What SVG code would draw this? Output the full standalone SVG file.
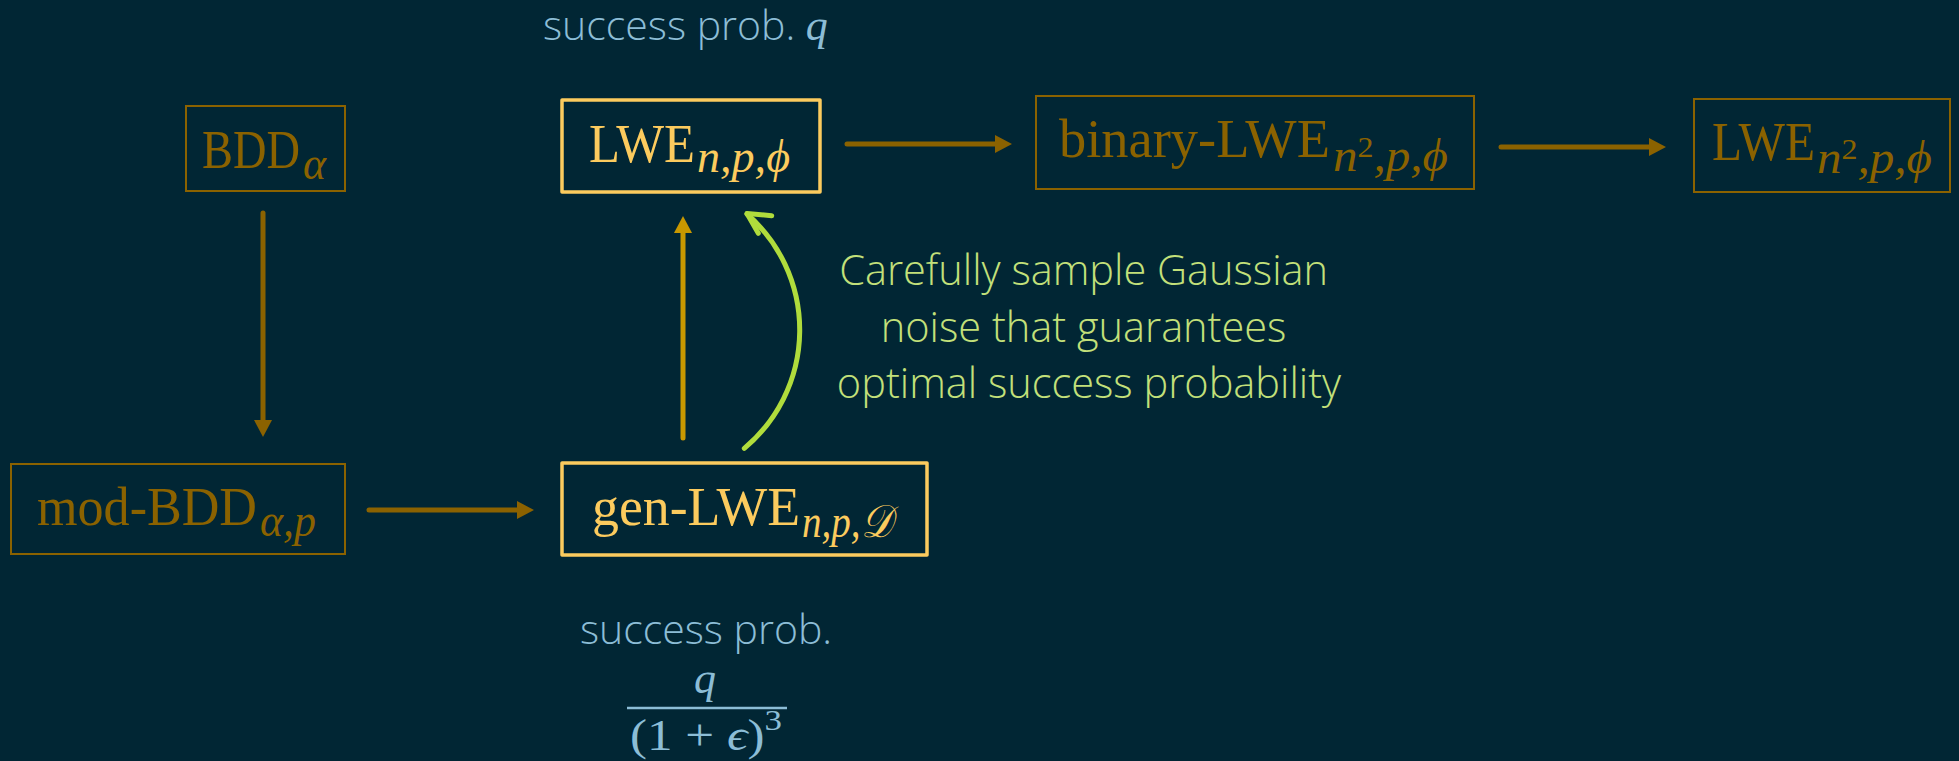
<svg xmlns="http://www.w3.org/2000/svg" width="1959" height="761" viewBox="0 0 1959 761">
  <style>
    .bg { fill: #012634; }
    .box-dim { fill: none; stroke: #8B6200; stroke-width: 2; }
    .box-hot { fill: none; stroke: #FCCB5E; stroke-width: 3.5; stroke-linejoin: round; }
    .lbl { font-family: "Liberation Serif", "DejaVu Serif", serif; font-size: 54px; }
    .dim { fill: #8B6200; }
    .hot { fill: #FCCB5E; }
    .sub { font-family: "Liberation Serif", "DejaVu Serif", serif; font-style: italic; font-size: 46px; }
    .sup { font-style: normal; font-size: 30px; }
    .note { font-family: "Open Sans", "Liberation Sans", sans-serif; font-weight: 300; }
    .prob { fill: #8CBDD6; font-size: 41px; }
    .math { font-family: "Liberation Serif", "DejaVu Serif", serif; fill: #8CBDD6; font-size: 44px; }
    .it { font-style: italic; }
    .green { fill: #C3E07A; font-size: 41.5px; }
    .arrow { fill: none; stroke-width: 5; stroke-linecap: round; }
    .arrow-dim { stroke: #8B6200; }
    .arrow-gold { stroke: #C89800; }
    .arrow-green { fill: none; stroke: #B0DC3C; stroke-width: 5; stroke-linecap: round; stroke-linejoin: round; }
  </style>
  <defs>
    <marker id="head-dim" markerUnits="userSpaceOnUse" markerWidth="17" markerHeight="18" refX="9" refY="9" orient="auto" viewBox="0 0 17 18">
      <path d="M0,0 L17,9 L0,18 z" fill="#8B6200"/>
    </marker>
    <marker id="head-gold" markerUnits="userSpaceOnUse" markerWidth="17" markerHeight="18" refX="9" refY="9" orient="auto" viewBox="0 0 17 18">
      <path d="M0,0 L17,9 L0,18 z" fill="#C89800"/>
    </marker>
  </defs>

  <rect class="bg" x="0" y="0" width="1959" height="761"/>

  <!-- nodes: name in upright serif, index set in italic subscript -->
  <g id="node-bdd">
    <rect class="box-dim" x="186" y="106" width="159" height="85"/>
    <text class="lbl dim" x="202" y="168" textLength="98" lengthAdjust="spacingAndGlyphs">BDD</text>
    <text class="sub dim" x="303" y="179" textLength="23" lengthAdjust="spacingAndGlyphs">α</text>
  </g>

  <g id="node-lwe">
    <rect class="box-hot" x="562" y="100" width="258" height="92"/>
    <text class="lbl hot" x="589" y="162" textLength="106" lengthAdjust="spacingAndGlyphs">LWE</text>
    <text class="sub hot" x="697" y="172" textLength="93" lengthAdjust="spacingAndGlyphs">n,p,ϕ</text>
  </g>

  <g id="node-binary-lwe">
    <rect class="box-dim" x="1036" y="96" width="438" height="93"/>
    <text class="lbl dim" x="1059" y="157" textLength="271" lengthAdjust="spacingAndGlyphs">binary-LWE</text>
    <text class="sub dim" x="1333" y="171" textLength="115" lengthAdjust="spacingAndGlyphs">n<tspan class="sup" dy="-14">2</tspan><tspan dy="14">,p,ϕ</tspan></text>
  </g>

  <g id="node-lwe-n2">
    <rect class="box-dim" x="1694" y="99" width="256" height="93"/>
    <text class="lbl dim" x="1712" y="160" textLength="103" lengthAdjust="spacingAndGlyphs">LWE</text>
    <text class="sub dim" x="1817" y="173" textLength="115" lengthAdjust="spacingAndGlyphs">n<tspan class="sup" dy="-14">2</tspan><tspan dy="14">,p,ϕ</tspan></text>
  </g>

  <g id="node-mod-bdd">
    <rect class="box-dim" x="11" y="464" width="334" height="90"/>
    <text class="lbl dim" x="37" y="525" textLength="220" lengthAdjust="spacingAndGlyphs">mod-BDD</text>
    <text class="sub dim" x="260" y="536" textLength="56" lengthAdjust="spacingAndGlyphs">α,p</text>
  </g>

  <g id="node-gen-lwe">
    <rect class="box-hot" x="562" y="463" width="365" height="92"/>
    <text class="lbl hot" x="592" y="525" textLength="208" lengthAdjust="spacingAndGlyphs">gen-LWE</text>
    <text class="sub hot" x="802" y="537" textLength="90" lengthAdjust="spacingAndGlyphs">n,p,𝒟</text>
  </g>

  <!-- annotations -->
  <g id="label-top-prob">
    <text class="note prob" x="543" y="40">success prob. <tspan class="math it">q</tspan></text>
  </g>

  <g id="label-bottom-prob">
    <text class="note prob" x="706" y="644" text-anchor="middle">success prob.</text>
    <text class="math it" x="705" y="693" text-anchor="middle">q</text>
    <line x1="627" y1="708" x2="787" y2="708" stroke="#8CBDD6" stroke-width="2.5"/>
    <text class="math" x="630" y="750" textLength="152" lengthAdjust="spacingAndGlyphs">(1 + <tspan class="it">ϵ</tspan>)<tspan font-size="30" dy="-20">3</tspan></text>
  </g>

  <g id="label-noise">
    <text class="note green" text-anchor="middle">
      <tspan x="1089" y="285">Carefully sample Gaussian</tspan>
      <tspan x="1089" y="342">noise that guarantees</tspan>
      <tspan x="1089" y="398">optimal success probability</tspan>
    </text>
  </g>

  <!-- connectors -->
  <g id="connectors">
    <line class="arrow arrow-dim" x1="263" y1="213" x2="263" y2="429" marker-end="url(#head-dim)"/>
    <line class="arrow arrow-dim" x1="369" y1="510" x2="526" y2="510" marker-end="url(#head-dim)"/>
    <line class="arrow arrow-gold" x1="683" y1="438" x2="683" y2="224" marker-end="url(#head-gold)"/>
    <line class="arrow arrow-dim" x1="847" y1="144" x2="1004" y2="144" marker-end="url(#head-dim)"/>
    <line class="arrow arrow-dim" x1="1501" y1="147" x2="1658" y2="147" marker-end="url(#head-dim)"/>
    <path class="arrow-green" d="M744.3,448.3 A154,154 0 0 0 747,214"/>
    <path class="arrow-green" d="M771.7,215.7 L747,213.5 L758.3,233.3"/>
  </g>
</svg>
